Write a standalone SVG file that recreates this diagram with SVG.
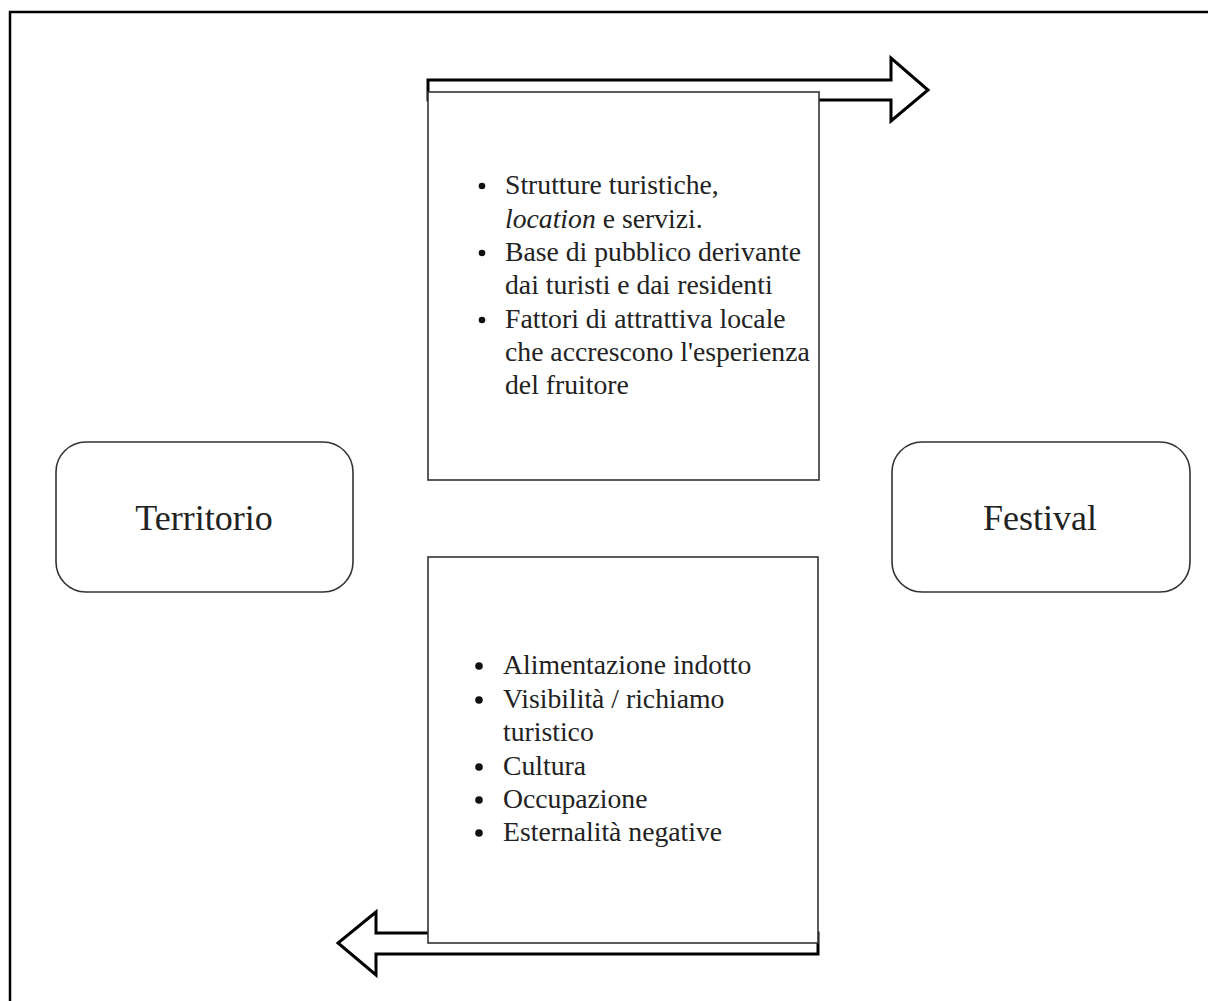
<svg xmlns="http://www.w3.org/2000/svg" width="1208" height="1001" viewBox="0 0 1208 1001">
<style>
.frame{fill:none;stroke:#000;stroke-width:2.5}
.arrow{fill:#fff;stroke:#000;stroke-width:3;stroke-linejoin:miter}
.box{fill:#fff;stroke:#333;stroke-width:1.6}
.rbox{fill:#fff;stroke:#333;stroke-width:1.6}
.lbl{font-family:"Liberation Serif","Times New Roman",serif;font-size:36px;fill:#222;text-anchor:middle}
.li{font-family:"Liberation Serif","Times New Roman",serif;font-size:27.7px;fill:#222}
.dot{fill:#111}
</style>
<rect width="1208" height="1001" fill="#fff"/>
<rect class="frame" x="10" y="12" width="1220" height="1010"/>
<g id="connectors">
<polygon class="arrow" points="428,80 891,80 891,58 928,90 891,121 891,100 428,100"/>
<polygon class="arrow" points="818,933 818,954 376,954 376,975 338,943 376,912 376,933"/>
</g>
<g id="node-top">
<rect class="box" x="428" y="92" width="391" height="388"/>
<circle class="dot" cx="482" cy="186" r="3.3"/>
<text class="li" x="505" y="194">Strutture turistiche,</text>
<text class="li" x="505" y="228"><tspan font-style="italic">location</tspan> e servizi.</text>
<circle class="dot" cx="482" cy="253" r="3.3"/>
<text class="li" x="505" y="261">Base di pubblico derivante</text>
<text class="li" x="505" y="294">dai turisti e dai residenti</text>
<circle class="dot" cx="482" cy="320" r="3.3"/>
<text class="li" x="505" y="328">Fattori di attrattiva locale</text>
<text class="li" x="505" y="361">che accrescono l'esperienza</text>
<text class="li" x="505" y="394">del fruitore</text>
</g>
<g id="node-bottom">
<rect class="box" x="428" y="557" width="390" height="386"/>
<circle class="dot" cx="479" cy="666" r="3.8"/>
<text class="li" x="503" y="674">Alimentazione indotto</text>
<circle class="dot" cx="479" cy="700" r="3.8"/>
<text class="li" x="503" y="708">Visibilità / richiamo</text>
<text class="li" x="503" y="741">turistico</text>
<circle class="dot" cx="479" cy="767" r="3.8"/>
<text class="li" x="503" y="775">Cultura</text>
<circle class="dot" cx="479" cy="800" r="3.8"/>
<text class="li" x="503" y="808">Occupazione</text>
<circle class="dot" cx="479" cy="833" r="3.8"/>
<text class="li" x="503" y="841">Esternalità negative</text>
</g>
<g id="node-territorio">
<rect class="rbox" x="56" y="442" width="297" height="150" rx="30" ry="30"/>
<text class="lbl" x="204" y="530">Territorio</text>
</g>
<g id="node-festival">
<rect class="rbox" x="892" y="442" width="298" height="150" rx="30" ry="30"/>
<text class="lbl" x="1040" y="530">Festival</text>
</g>
</svg>
